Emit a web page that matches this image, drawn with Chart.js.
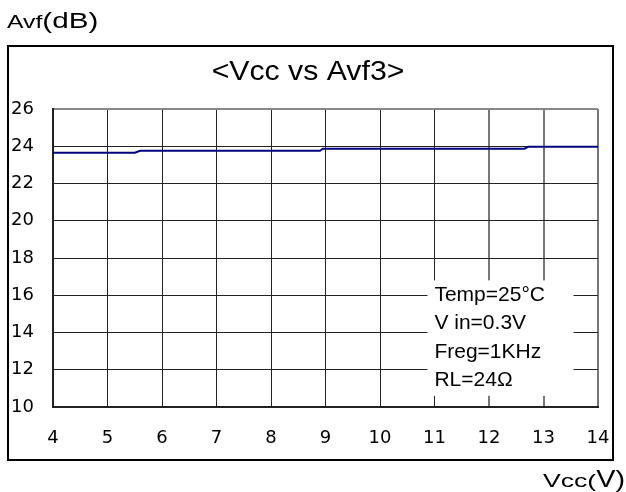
<!DOCTYPE html>
<html>
<head>
<meta charset="utf-8">
<script src="https://cdn.jsdelivr.net/npm/chart.js@4"></script>
<style>
  html, body { margin: 0; padding: 0; background: #fff; }
  #wrap { width: 626px; height: 492px; position: relative; }
</style>
</head>
<body>
<div id="wrap"><canvas id="myChart" width="626" height="492"></canvas></div>
<script>
// Vcc (V) vs Avf (dB)
const vccValues = [4, 5.5, 5.6, 8.9, 8.95, 12.65, 12.72, 14];
const avfValues = [23.65, 23.65, 23.76, 23.76, 23.87, 23.87, 23.97, 23.97];

const xTicks = [4, 5, 6, 7, 8, 9, 10, 11, 12, 13, 14];
const yTicks = [10, 12, 14, 16, 18, 20, 22, 24, 26];

const chartTitle = '<Vcc vs Avf3>';
const noteLines = ['Temp=25\u00B0C', 'V in=0.3V', 'Freg=1KHz', 'RL=24\u03A9'];

const FONT = '"Liberation Sans", Arial, sans-serif';
const TICK_FONT = '"DejaVu Sans", sans-serif';

const points = vccValues.map((v, i) => ({ x: v, y: avfValues[i] }));

// text a bit wider than the font, like the original picture; returns drawn width
function wideText(ctx, text, x, y, size, sx) {
  ctx.save();
  ctx.font = size + 'px ' + FONT;
  ctx.translate(x, y);
  ctx.scale(sx, 1);
  ctx.textAlign = 'left';
  ctx.fillText(text, 0, 0);
  const w = ctx.measureText(text).width * sx;
  ctx.restore();
  return w;
}

function wideWidth(ctx, text, size, sx) {
  ctx.save();
  ctx.font = size + 'px ' + FONT;
  const w = ctx.measureText(text).width * sx;
  ctx.restore();
  return w;
}

// outer frame, title, axis names and the conditions box
const decor = {
  id: 'decor',
  afterDraw(chart) {
    const ctx = chart.ctx;
    const xs = chart.scales.x;
    const ys = chart.scales.y;
    ctx.save();

    ctx.strokeStyle = '#000';
    ctx.lineWidth = 2;
    ctx.strokeRect(8, 46, 605, 414);

    ctx.fillStyle = '#000';
    ctx.textBaseline = 'alphabetic';

    // title
    const tw = wideWidth(ctx, chartTitle, 27, 1.12);
    wideText(ctx, chartTitle, 308 - tw / 2, 80, 27, 1.12);

    // y axis name
    let w = wideText(ctx, 'Avf', 7, 28, 19, 1.3);
    wideText(ctx, '(dB)', 7 + w, 28, 22, 1.35);

    // x axis name
    const wa = wideWidth(ctx, 'Vcc(', 19, 1.4);
    const wb = wideWidth(ctx, 'V)', 24, 1.2);
    const start = 625 - wa - wb;
    wideText(ctx, 'Vcc(', start, 487, 19, 1.4);
    wideText(ctx, 'V)', start + wa, 487, 24, 1.2);

    // conditions box
    const bx = xs.getPixelForValue(10.87);
    const bx2 = xs.getPixelForValue(13.55);
    const by = ys.getPixelForValue(16.8);
    const by2 = ys.getPixelForValue(10.6);
    ctx.fillStyle = '#fff';
    ctx.fillRect(bx, by, bx2 - bx, by2 - by);
    ctx.fillStyle = '#000';
    noteLines.forEach((t, i) => {
      wideText(ctx, t, bx + 7, 301 + i * 28.3, 21, 1.0);
    });

    ctx.restore();
  }
};

const ctx = document.getElementById('myChart').getContext('2d');
new Chart(ctx, {
  type: 'line',
  data: {
    datasets: [{
      data: points,
      borderColor: '#000080',
      borderWidth: 2,
      pointRadius: 0,
      fill: false,
      tension: 0
    }]
  },
  options: {
    responsive: false,
    animation: false,
    layout: { padding: { left: 11, top: 109, right: 28, bottom: 32 } },
    plugins: { legend: { display: false }, tooltip: { enabled: false } },
    scales: {
      x: {
        type: 'linear',
        min: 4,
        max: 14,
        afterBuildTicks: axis => { axis.ticks = xTicks.map(v => ({ value: v })); },
        afterFit: axis => {
          axis.height = 53;
          axis.paddingLeft = 0;
          axis.paddingRight = 0;
        },
        border: { color: '#222', width: 2 },
        grid: {
          drawTicks: false,
          color: c => c.tick && c.tick.value >= 12 ? '#777' : '#222',
          lineWidth: c => c.tick && c.tick.value >= 12 ? 2 : 1
        },
        ticks: {
          padding: 21,
          color: '#000',
          font: { family: TICK_FONT, size: 18 }
        }
      },
      y: {
        min: 10,
        max: 26,
        afterBuildTicks: axis => { axis.ticks = yTicks.map(v => ({ value: v })); },
        afterFit: axis => { axis.width = 42; },
        border: { color: '#222', width: 2 },
        grid: {
          drawTicks: false,
          color: c => c.tick && c.tick.value === 26 ? '#888' : '#222',
          lineWidth: c => c.tick && c.tick.value === 26 ? 2 : 1
        },
        ticks: {
          crossAlign: 'far',
          padding: 0,
          color: '#000',
          font: { family: TICK_FONT, size: 18 }
        }
      }
    }
  },
  plugins: [decor]
});
</script>
</body>
</html>
